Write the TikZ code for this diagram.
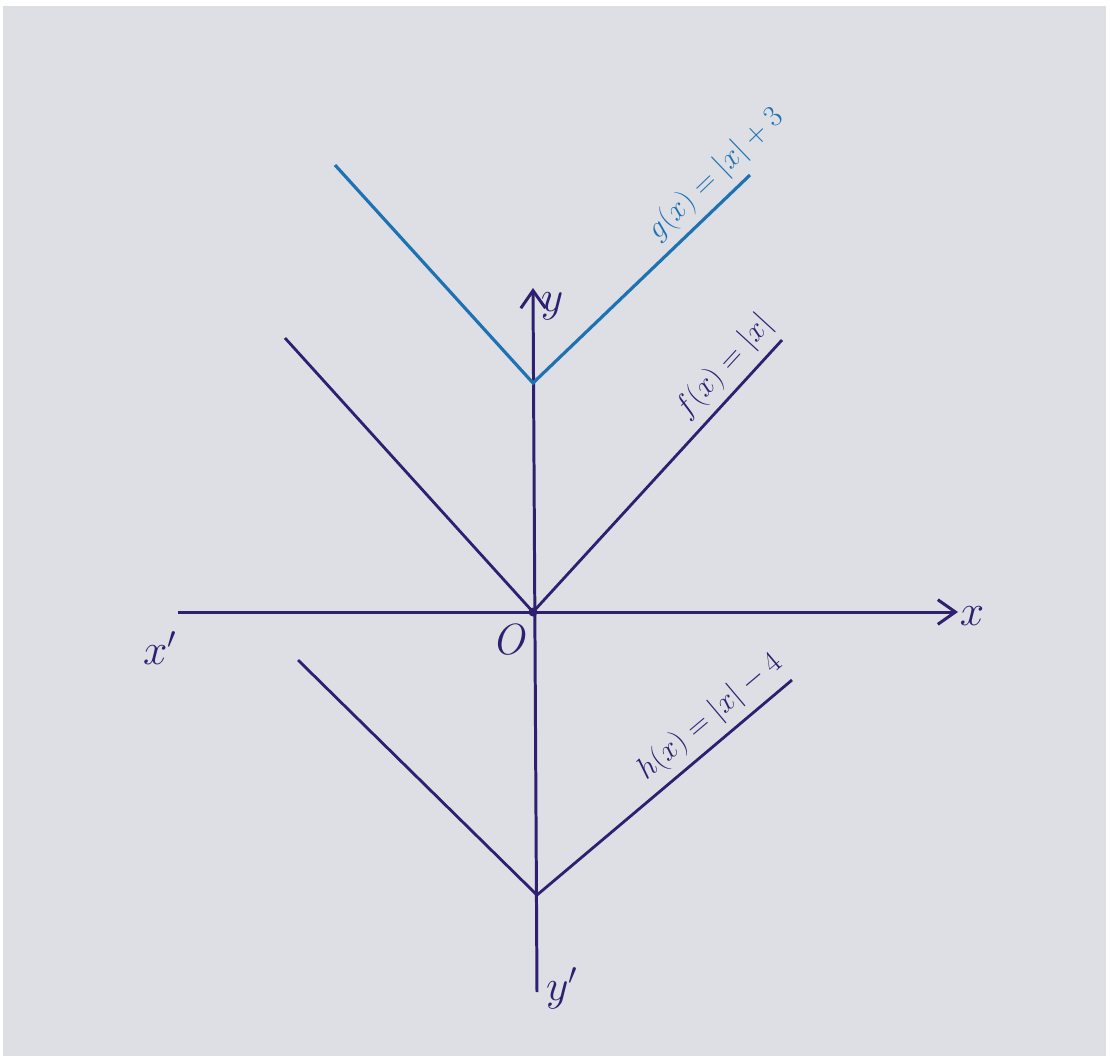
\documentclass[tikz,border=0pt]{standalone}
\usetikzlibrary{arrows.meta}
\definecolor{paper}{HTML}{DEDFE5}
\definecolor{ink}{HTML}{2E1F70}
\definecolor{blueink}{HTML}{1E72B2}
\tikzset{
  axis/.style={draw=ink, line width=1.7pt},
  graphline/.style={draw=ink, line width=1.6pt},
  blueline/.style={draw=blueink, line width=1.8pt},
  lbl/.style={text=ink, font=\fontsize{19}{21}\selectfont, sloped, above, inner sep=5pt},
  axlbl/.style={text=ink, font=\fontsize{24}{26}\selectfont},
}
\begin{document}
\begin{tikzpicture}[x=0.02cm, y=-0.02cm]
\useasboundingbox (0,0) rectangle (1110,1056);
\fill[white] (0,0) rectangle (1110,1056);
\fill[paper] (3,6) rectangle (1106,1056);
% axes
\coordinate (xl) at (178,612);
\coordinate (xr) at (958,612);
\coordinate (yt) at (533,288);
\coordinate (yb) at (537,992);
\coordinate (O) at (533,612);
\draw[axis, -{Straight Barb[length=10pt, width=14pt]}] (xl) -- (xr);
\draw[axis, -{Straight Barb[length=10pt, width=14pt]}] (yb) -- (yt);
\fill[ink] (O) circle (4.5);
% f(x)=|x|
\coordinate (fl) at (285,338);
\coordinate (fr) at (782,340);
\draw[graphline] (fl) -- (O) -- (fr);
% g(x)=|x|+3
\coordinate (gv) at (533,383);
\coordinate (gl) at (335,165);
\coordinate (gr) at (750,175);
\draw[blueline] (gl) -- (gv) -- (gr);
% h(x)=|x|-4
\coordinate (hv) at (537,895);
\coordinate (hl) at (298,660);
\coordinate (hr) at (792,680);
\draw[graphline] (hl) -- (hv) -- (hr);
% labels
\path (O) -- (fr) node[lbl, pos=0.84] (fL) {$f(x) = |x|$};
\path (gv) -- (gr) node[lbl, text=blueink, pos=0.92] (gL) {$g(x) = |x| + 3$};
\path (hv) -- (hr) node[lbl, pos=0.74] (hL) {$h(x) = |x| - 4$};
\node[axlbl] (ylab) at (552,306) {$y$};
\node[axlbl] (xlab) at (972,616) {$x$};
\node[axlbl] (xplab) at (160,648) {$x'$};
\node[axlbl] (Olab) at (510,640) {$\mathit{O}$};
\node[axlbl] (yplab) at (562,988) {$y'$};
\end{tikzpicture}
\end{document}
